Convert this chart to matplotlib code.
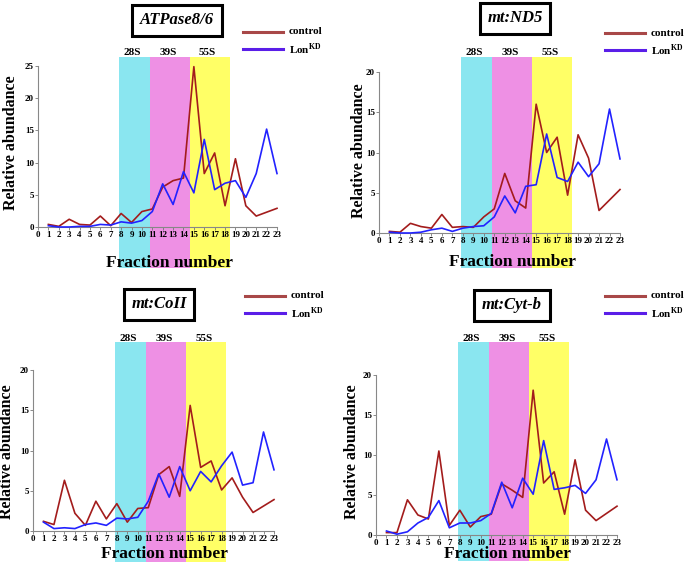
import matplotlib
matplotlib.use("Agg")
import matplotlib.pyplot as plt
from matplotlib.patches import Rectangle
from matplotlib.transforms import blended_transform_factory

plt.rcParams['font.family'] = 'Liberation Serif'
plt.rcParams['font.weight'] = 'bold'
plt.rcParams['mathtext.fontset'] = 'custom'
plt.rcParams['mathtext.rm'] = 'Liberation Serif'
plt.rcParams['mathtext.bf'] = 'Liberation Serif:bold'

W, H = 685, 562

fractions = list(range(1, 24))

# ATPase8/6
atp_control = [0.4, 0.1, 1.2, 0.4, 0.3, 1.7, 0.2, 2.1, 0.7, 2.4, 2.8, 6.2, 7.2, 7.6,
               24.9, 8.3, 11.5, 3.3, 10.6, 3.3, 1.7, 2.3, 2.9]
atp_lon = [0.2, 0.0, 0.0, 0.1, 0.1, 0.4, 0.3, 0.8, 0.6, 1.0, 2.4, 6.7, 3.5, 8.6,
           5.3, 13.6, 5.8, 6.8, 7.2, 4.6, 8.3, 15.2, 8.3]
# mt:ND5
nd5_control = [0.2, 0.1, 1.2, 0.8, 0.6, 2.3, 0.7, 0.8, 0.7, 2.0, 3.0, 7.4, 4.0, 3.1,
               16.0, 10.0, 11.9, 4.7, 12.2, 9.3, 2.8, 4.1, 5.4]
nd5_lon = [0.1, 0.0, 0.0, 0.1, 0.4, 0.6, 0.2, 0.6, 0.8, 0.9, 2.0, 4.6, 2.5, 5.8,
           6.0, 12.3, 6.9, 6.4, 8.8, 7.0, 8.6, 15.4, 9.2]
# mt:CoII
coii_control = [1.2, 0.8, 6.3, 2.2, 0.7, 3.7, 1.5, 3.4, 1.1, 2.8, 2.9, 7.0, 8.0, 4.3,
                15.6, 7.9, 8.7, 5.1, 6.6, 4.2, 2.3, 3.1, 3.9]
coii_lon = [1.1, 0.3, 0.4, 0.3, 0.8, 1.0, 0.7, 1.6, 1.5, 1.7, 3.7, 7.1, 4.2, 8.0,
            5.0, 7.4, 6.1, 8.1, 9.8, 5.7, 6.0, 12.3, 7.6]
# mt:Cyt-b
cytb_control = [0.3, 0.3, 4.4, 2.5, 2.0, 10.5, 1.2, 3.1, 1.0, 2.3, 2.6, 6.4, 5.6, 4.7,
                18.1, 6.5, 7.9, 2.6, 9.4, 3.1, 1.8, 2.7, 3.6]
cytb_lon = [0.5, 0.1, 0.4, 1.5, 2.2, 4.3, 0.9, 1.5, 1.5, 1.8, 2.7, 6.6, 3.4, 7.1,
            5.1, 11.8, 5.7, 5.9, 6.2, 5.2, 6.9, 12.0, 6.9]

band_labels = ['28S', '39S', '55S']
band_edges = [(7.8, 10.8), (10.8, 14.6), (14.6, 18.45)]
band_colors = ['#8ae6f0', '#ee90e4', '#ffff66']

control_color = '#a31c1c'
lon_color = '#2222ff'
control_legend = '#a84848'
lon_legend = '#5a1ee8'

# per-panel layout in pixels
panels = [
    dict(title='ATPase8/6', control=atp_control, lon=atp_lon, ymax=25,
         ax=(38, 277, 227, 66), band_y=(57, 268), band_lab_y=55,
         title_xy=(177, 20), leg=(243, 32), ylab=(11, 143), xlab=(169, 267)),
    dict(title='mt:ND5', control=nd5_control, lon=nd5_lon, ymax=20,
         ax=(379, 620, 233, 72), band_y=(57, 268), band_lab_y=55,
         title_xy=(515, 18), leg=(605, 33), ylab=(359, 151), xlab=(512, 266)),
    dict(title='mt:CoII', control=coii_control, lon=coii_lon, ymax=20,
         ax=(33, 274, 531, 370), band_y=(342, 562), band_lab_y=341,
         title_xy=(159, 304), leg=(245, 296), ylab=(7, 452), xlab=(164, 558)),
    dict(title='mt:Cyt-b', control=cytb_control, lon=cytb_lon, ymax=20,
         ax=(376, 617, 535, 375), band_y=(342, 561), band_lab_y=341,
         title_xy=(512, 305), leg=(605, 296), ylab=(352, 452), xlab=(507, 558)),
]


def fx(x):
    return x / W


def fy(y):
    return 1 - y / H


fig = plt.figure(figsize=(W / 100, H / 100), dpi=100)

for p in panels:
    L, R, B, T = p['ax']
    ax = fig.add_axes([fx(L), fy(B), (R - L) / W, (B - T) / H])
    ax.set_facecolor('none')
    ax.set_xlim(0, 23)
    ax.set_ylim(0, p['ymax'])

    # sedimentation bands, running past the axes down over the x label
    trans = blended_transform_factory(ax.transData, fig.transFigure)
    y0, y1 = p['band_y']
    for (a, b), col, lab in zip(band_edges, band_colors, band_labels):
        ax.add_patch(Rectangle((a, fy(y1)), b - a, fy(y0) - fy(y1), transform=trans,
                               facecolor=col, edgecolor='none', clip_on=False, zorder=0))
        ax.text((a + b) / 2 - 0.2, fy(p['band_lab_y']), lab, transform=trans,
                ha='center', va='baseline', fontsize=8, fontweight='bold')

    ax.plot(fractions, p['control'], color=control_color, lw=1.2, zorder=3, clip_on=False)
    ax.plot(fractions, p['lon'], color=lon_color, lw=1.2, zorder=3, clip_on=False)

    ax.set_xticks(range(0, 24))
    ax.set_yticks(range(0, p['ymax'] + 1, 5))
    ax.tick_params(labelsize=6.5, length=2, width=0.6, pad=1, color='#777777')
    for lbl in ax.get_xticklabels() + ax.get_yticklabels():
        lbl.set_fontweight('bold')
    for side in ['top', 'right']:
        ax.spines[side].set_visible(False)
    for side in ['left', 'bottom']:
        ax.spines[side].set_color('#888888')
        ax.spines[side].set_linewidth(0.8)

    fig.text(fx(p['ylab'][0]), fy(p['ylab'][1]), 'Relative abundance', rotation=90,
             ha='center', va='center', fontsize=11.5, fontweight='bold')
    fig.text(fx(p['xlab'][0]), fy(p['xlab'][1]), 'Fraction number',
             ha='center', va='baseline', fontsize=12.5, fontweight='bold')

    fig.text(fx(p['title_xy'][0]), fy(p['title_xy'][1]), p['title'],
             ha='center', va='center', fontsize=12, fontweight='bold', style='italic',
             bbox=dict(boxstyle='square,pad=0.45', facecolor='white',
                       edgecolor='black', linewidth=2.2))

    # hand-drawn legend
    lx, ly = p['leg']
    for dy, col, lab in [(0, control_legend, 'control'),
                         (17, lon_legend, r'Lon$^{\mathbf{KD}}$')]:
        fig.add_artist(plt.Line2D([fx(lx), fx(lx + 40)], [fy(ly + dy), fy(ly + dy)],
                                  color=col, lw=2.2, transform=fig.transFigure))
        fig.text(fx(lx + 46), fy(ly + dy), lab, ha='left', va='center',
                 fontsize=8, fontweight='bold')

fig.savefig('out.png', dpi=100)
